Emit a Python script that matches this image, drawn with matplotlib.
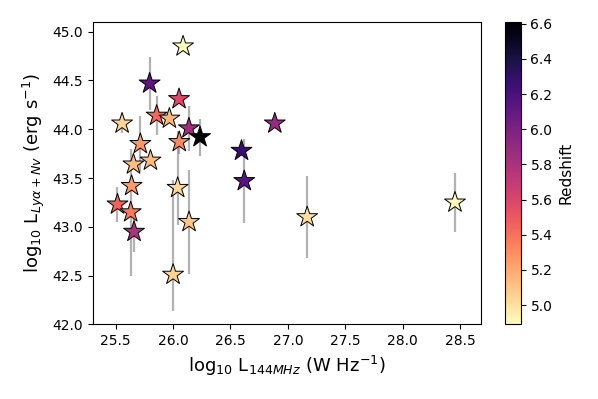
import numpy as np
import matplotlib
matplotlib.use('Agg')
import matplotlib.pyplot as plt

# log10 L_144MHz, log10 L_Lya+NV, redshift, lower / upper errors
lum_radio = [26.087, 25.796, 26.052, 25.857, 25.968, 25.556, 26.138, 26.235,
             26.886, 25.715, 26.054, 26.596, 25.803, 25.655, 25.639, 26.040,
             25.516, 25.631, 25.660, 26.139, 26.000, 26.620, 27.168, 28.455]
lum_lya = [44.85, 44.47, 44.31, 44.14, 44.11, 44.06, 44.01, 43.92,
           44.06, 43.85, 43.87, 43.78, 43.68, 43.64, 43.42, 43.40,
           43.23, 43.15, 42.95, 43.05, 42.51, 43.47, 43.10, 43.25]
redshift = [4.89, 6.13, 5.58, 5.44, 5.15, 5.04, 5.85, 6.61,
            5.89, 5.27, 5.32, 6.27, 5.13, 5.13, 5.25, 5.03,
            5.46, 5.37, 5.80, 5.10, 5.04, 6.15, 5.01, 4.90]
err_lo = [0.0, 0.27, 0.0, 0.20, 0.0, 0.10, 0.23, 0.19,
          0.0, 0.29, 0.12, 0.0, 0.0, 0.0, 0.0, 0.38,
          0.18, 0.65, 0.21, 0.53, 0.37, 0.43, 0.42, 0.30]
err_hi = [0.0, 0.27, 0.0, 0.20, 0.0, 0.10, 0.23, 0.19,
          0.0, 0.29, 0.0, 0.0, 0.0, 0.0, 0.0, 0.58,
          0.18, 0.65, 0.21, 0.53, 0.97, 0.43, 0.42, 0.30]

fig = plt.figure(figsize=(5.98, 3.99), dpi=100)
ax = fig.add_axes([0.155, 0.187, 0.649, 0.758])
cax = fig.add_axes([0.8445, 0.187, 0.0263, 0.758])

ax.errorbar(lum_radio, lum_lya, yerr=[err_lo, err_hi], fmt='none',
            ecolor='grey', alpha=0.6, elinewidth=1.6, zorder=1)
sc = ax.scatter(lum_radio, lum_lya, c=redshift, cmap='magma_r', marker='*',
                s=250, edgecolors='black', linewidths=0.7, zorder=2)

ax.set_xlim(25.30, 28.68)
ax.set_ylim(42.0, 45.1)
ax.set_xticks(np.arange(25.5, 28.6, 0.5))
ax.set_yticks(np.arange(42.0, 45.1, 0.5))
ax.tick_params(labelsize=10)
ax.set_xlabel(r'log$_{10}$ L$_{144MHz}$ (W Hz$^{-1}$)', fontsize=13)
ax.set_ylabel(r'log$_{10}$ L$_{Ly\alpha+Nv}$ (erg s$^{-1}$)', fontsize=13)

cb = fig.colorbar(sc, cax=cax)
cb.set_ticks(np.arange(5.0, 6.61, 0.2))
cb.ax.tick_params(labelsize=10)
cb.set_label('Redshift', fontsize=11)

fig.savefig('out.png', dpi=100)
